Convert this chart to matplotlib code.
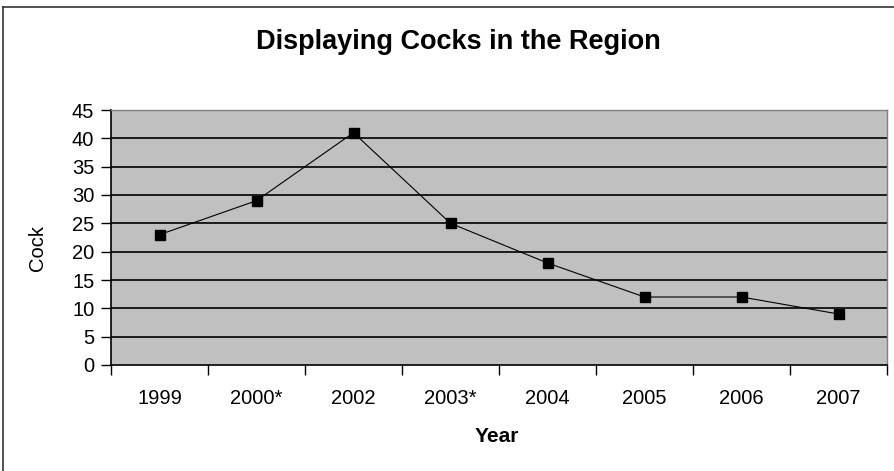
import matplotlib
matplotlib.use("Agg")
import matplotlib.pyplot as plt
import numpy as np
from matplotlib.lines import Line2D

categories = ["1999", "2000*", "2002", "2003*", "2004", "2005", "2006", "2007"]
cocks = [23, 29, 41, 25, 18, 12, 12, 9]
y_ticks = [0, 5, 10, 15, 20, 25, 30, 35, 40, 45]

plt.rcParams['font.family'] = ['Liberation Sans', 'DejaVu Sans']

W, H = 894, 471
fig = plt.figure(figsize=(W / 100, H / 100), dpi=100)
fig.patch.set_facecolor("white")

# outer chart border (top and left visible)
fig.add_artist(Line2D([3 / W, 3 / W], [0, 1 - 7 / H], transform=fig.transFigure, color="#333333", lw=1.2))
fig.add_artist(Line2D([3 / W, 1], [1 - 7 / H, 1 - 7 / H], transform=fig.transFigure, color="#333333", lw=1.2))

left, right = 111 / W, 887 / W
bottom, top = 1 - 365 / H, 1 - 110 / H
ax = fig.add_axes([left, bottom, right - left, top - bottom])
ax.set_facecolor("#C0C0C0")

x = np.arange(len(categories))
ax.plot(x, cocks, color="black", lw=0.8, marker="s", markersize=6.8, markerfacecolor="black",
        markeredgecolor="black", zorder=3)

ax.set_xlim(-0.5, len(categories) - 0.5)
ax.set_ylim(0, 45)
ax.set_yticks(y_ticks)
ax.set_yticklabels([str(v) for v in y_ticks], fontsize=14.5)

for v in y_ticks[1:-1]:
    ax.axhline(v, color="black", lw=1.2, zorder=1)

ax.set_xticks(np.arange(-0.5, len(categories), 1.0))
ax.set_xticklabels([])
ax.set_xticks(x, minor=True)
ax.set_xticklabels(categories, minor=True, fontsize=14.5)
ax.tick_params(axis="x", which="major", direction="out", length=7, width=1, color="black")
ax.tick_params(axis="x", which="minor", length=0, pad=17)
ax.tick_params(axis="y", direction="out", length=7, width=1, color="black", pad=5)

for s in ["top", "right"]:
    ax.spines[s].set_color("#808080")
    ax.spines[s].set_linewidth(1)
for s in ["left", "bottom"]:
    ax.spines[s].set_color("black")
    ax.spines[s].set_linewidth(1.2)

fig.text(458 / W, 1 - 42 / H, "Displaying Cocks in the Region", ha="center", va="center",
         fontsize=19.5, fontweight="bold")
fig.text(38 / W, 1 - 248 / H, "Cock", ha="center", va="center", rotation=90, fontsize=14.5)
fig.text(497 / W, 1 - 436 / H, "Year", ha="center", va="center", fontsize=15, fontweight="bold")

fig.savefig("out.png", dpi=100)
